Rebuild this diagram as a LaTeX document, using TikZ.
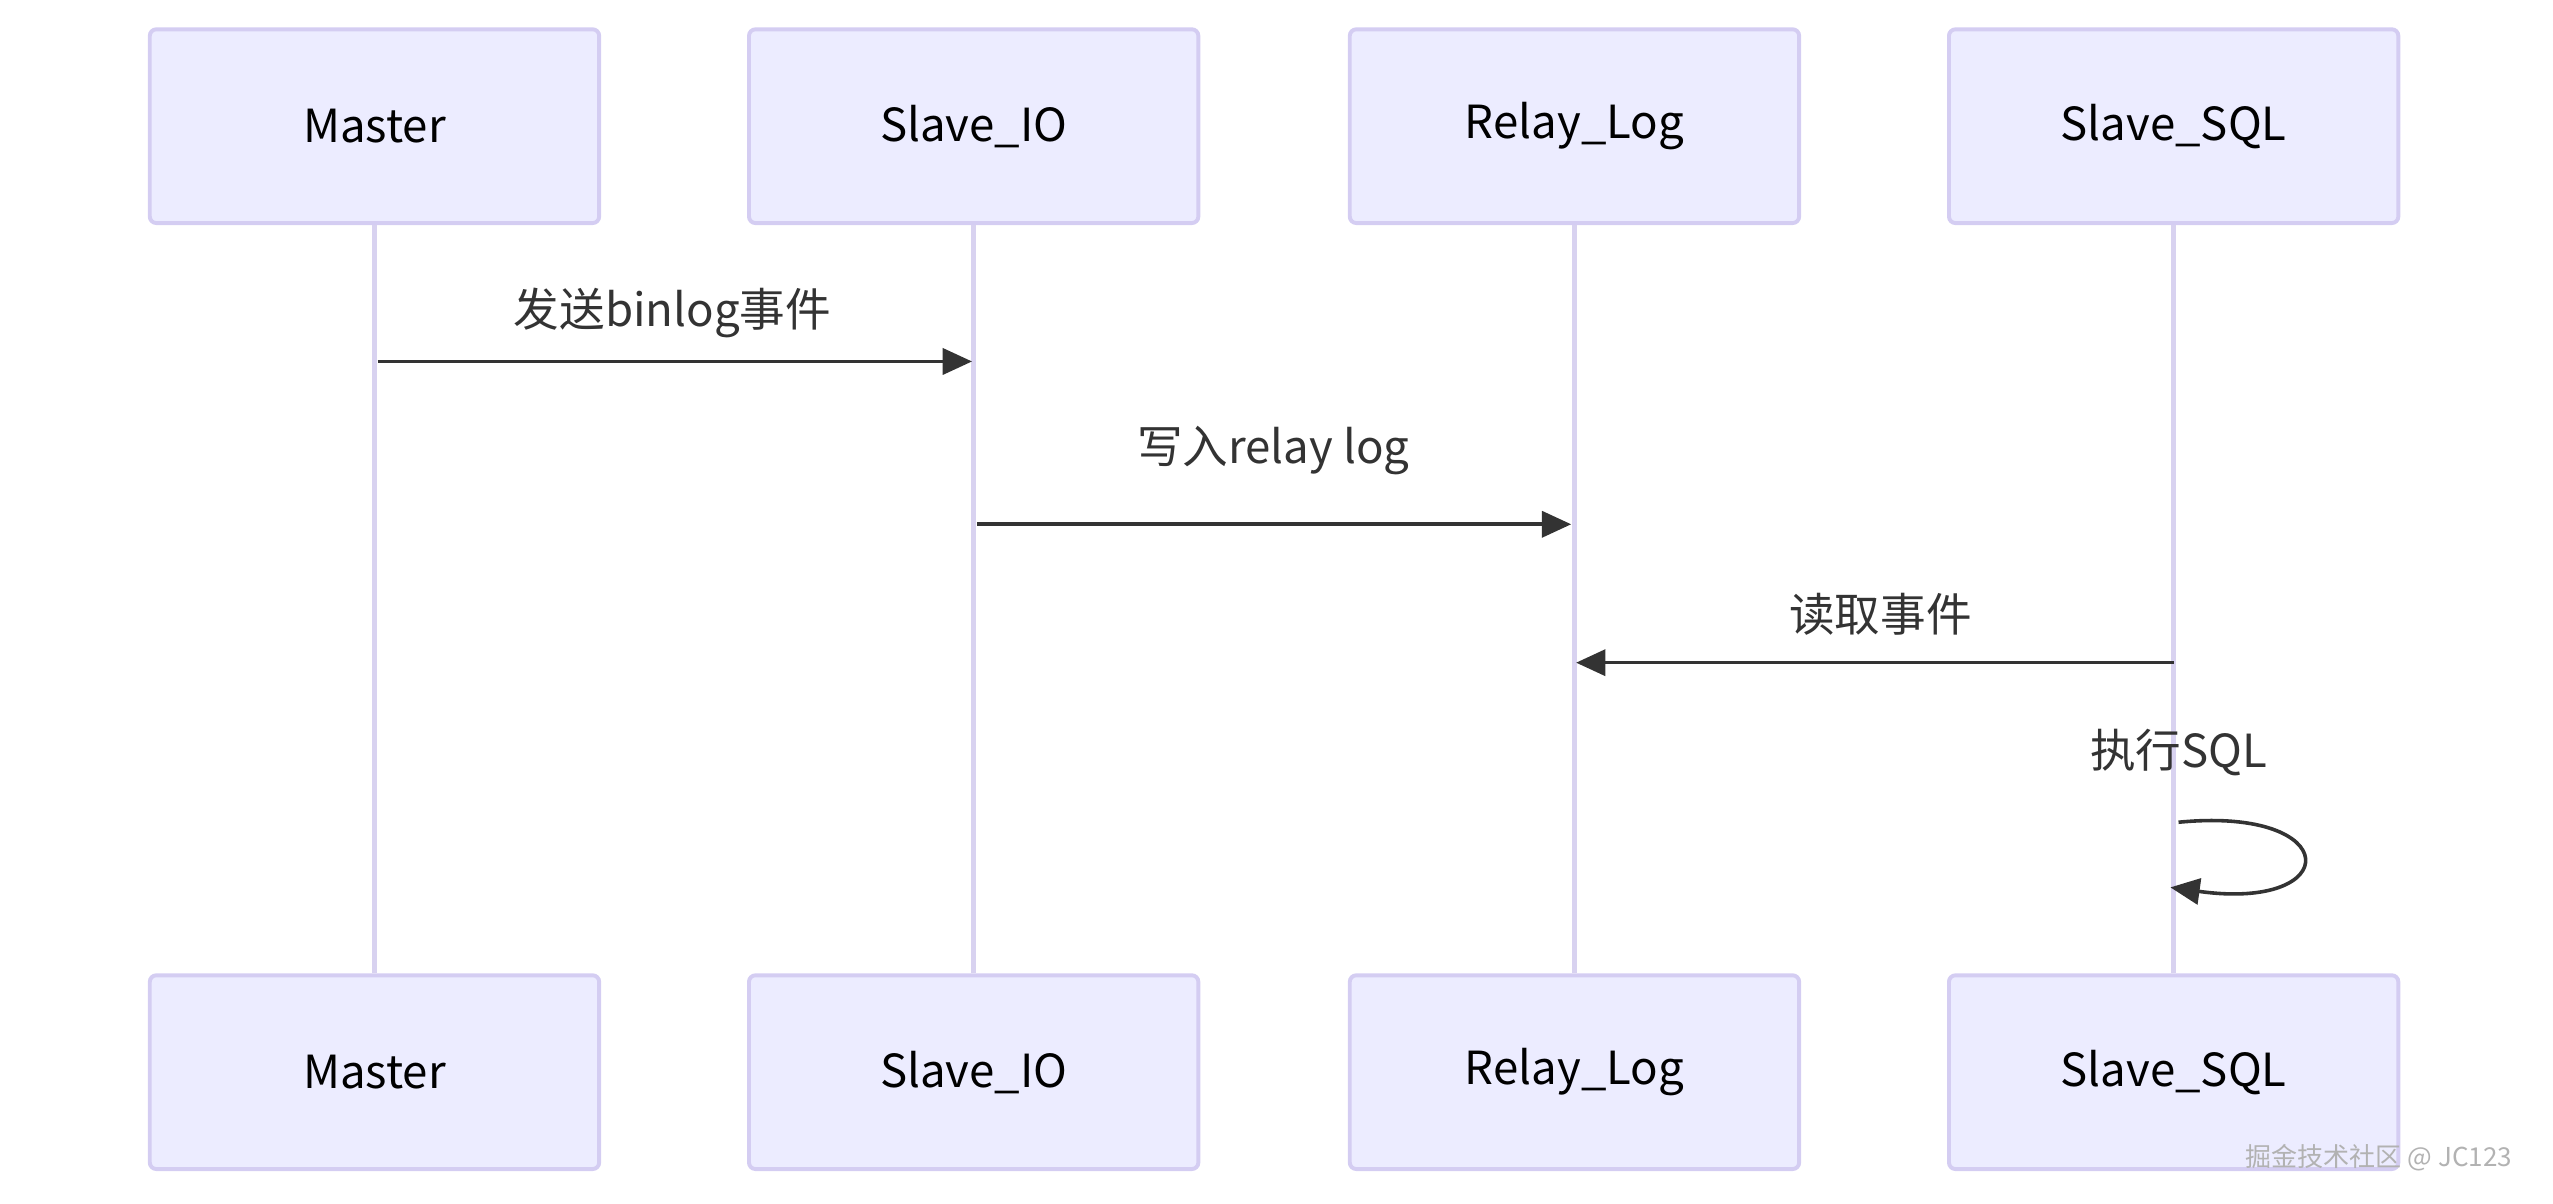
\documentclass[tikz,border=0pt]{standalone}
\usepackage{fontspec}
\setmainfont{Noto Sans CJK SC}
\usetikzlibrary{arrows.meta}
\definecolor{boxfill}{HTML}{ECECFF}
\definecolor{boxline}{HTML}{D4CDF2}
\definecolor{life}{HTML}{D8D2F0}
\definecolor{ink}{HTML}{333333}
\begin{document}
\begin{tikzpicture}[x=0.5pt,y=-0.5pt,
  actor/.style={draw=boxline,line width=1.2pt,fill=boxfill,rounded corners=2pt,minimum width=138pt,minimum height=59.5pt,font=\fontsize{14}{16}\selectfont,text=black},
  lifeline/.style={draw=life,line width=1.5pt},
  msg/.style={draw=ink,line width=1.1pt,-{Triangle[length=9pt,width=8pt]}},
  lbl/.style={font=\fontsize{14}{16}\selectfont,text=ink}]
\useasboundingbox (0,0) rectangle (1568,739);
\foreach \n/\x/\t in {m/230/Master,io/598/Slave\_IO,rl/967/Relay\_Log,sq/1335/Slave\_SQL}{
  \node[actor] (\n t) at (\x,77.5) {\t};
  \node[actor] (\n b) at (\x,658.5) {\t};
  \draw[lifeline] (\n t.south) -- (\n b.north);
}
\coordinate (a1) at (232,222); \coordinate (a2) at (597,222);
\draw[msg] (a1) -- (a2);
\node[lbl] (l1) at (413,192) {发送binlog事件};
\coordinate (b1) at (600,322); \coordinate (b2) at (965,322);
\draw[msg] (b1) -- (b2);
\node[lbl] (l2) at (782,277) {写入relay log};
\coordinate (c1) at (1335,407); \coordinate (c2) at (968,407);
\draw[msg] (c1) -- (c2);
\node[lbl] (l3) at (1155,377) {读取事件};
\coordinate (d1) at (1338,505); \coordinate (d2) at (1333,545);
\draw[msg] (d1) .. controls (1440,495) and (1440,560) .. (d2);
\node[lbl] (l4) at (1338,462) {执行SQL};
\node[font=\fontsize{8}{10}\selectfont,text=gray!60,anchor=east] (wm) at (1550,711) {掘金技术社区 @ JC123};
\end{tikzpicture}
\end{document}
